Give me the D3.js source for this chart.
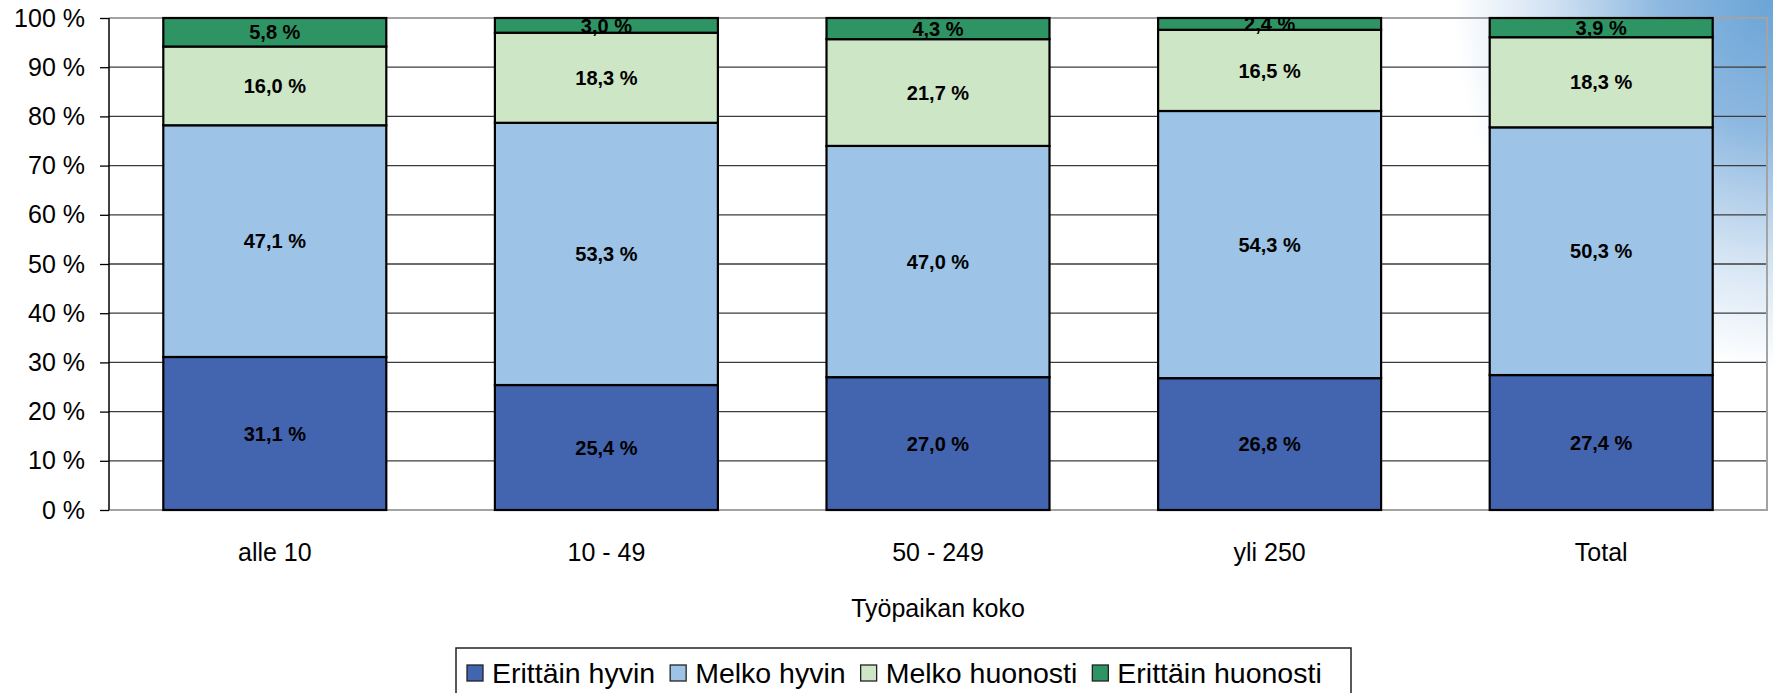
<!DOCTYPE html>
<html>
<head>
<meta charset="utf-8">
<script src="https://cdn.jsdelivr.net/npm/d3@7"></script>
<style>
    html, body { margin: 0; padding: 0; background: #fff; }
    svg text { font-family: "Liberation Sans", Arial, sans-serif; fill: #000; }
</style>
</head>
<body>
<div id="chart"></div>
<script>

var categories = ["alle 10", "10 - 49", "50 - 249", "yli 250", "Total"];
var seriesNames = ["Erittäin hyvin", "Melko hyvin", "Melko huonosti", "Erittäin huonosti"];
var seriesColors = ["#4364ae", "#9dc3e6", "#cde6c5", "#2e9463"];

var erittainHyvin   = [31.1, 25.4, 27.0, 26.8, 27.4];
var melkoHyvin      = [47.1, 53.3, 47.0, 54.3, 50.3];
var melkoHuonosti   = [16.0, 18.3, 21.7, 16.5, 18.3];
var erittainHuonosti = [5.8, 3.0, 4.3, 2.4, 3.9];

var yTicks = [0, 0.1, 0.2, 0.3, 0.4, 0.5, 0.6, 0.7, 0.8, 0.9, 1];
var xTitle = "Työpaikan koko";

var StackedChart = (function() {

    var dim = { "w": 1773, "h": 693 };
    var plot = { "left": 109, "right": 1767, "top": 18, "bottom": 510 };
    var svg = null;

    function buildRows() {
        var values = [erittainHyvin, melkoHyvin, melkoHuonosti, erittainHuonosti];
        return categories.map(function(c, i) {
            var row = { "cat": c };
            seriesNames.forEach(function(s, j) { row[s] = values[j][i]; });
            return row;
        });
    }

    function initFrame(target) {
        svg = d3.select(target).append("svg")
            .attr("width", dim.w)
            .attr("height", dim.h);

        // soft blue corner, top right
        var grad = svg.append("defs").append("radialGradient")
            .attr("id", "corner")
            .attr("gradientUnits", "userSpaceOnUse")
            .attr("cx", dim.w).attr("cy", 0).attr("r", 320)
            .attr("gradientTransform", "translate(1773,0) scale(1,1.15) translate(-1773,0)");
        grad.append("stop").attr("offset", "0").attr("stop-color", "#6aa4d6");
        grad.append("stop").attr("offset", "0.35").attr("stop-color", "#8db8e0");
        grad.append("stop").attr("offset", "0.7").attr("stop-color", "#d3e3f3");
        grad.append("stop").attr("offset", "1").attr("stop-color", "#ffffff");

        svg.append("rect").attr("width", dim.w).attr("height", dim.h).attr("fill", "#fff");
        svg.append("rect").attr("width", dim.w).attr("height", dim.h).attr("fill", "url(#corner)");
    }

    function draw() {
        var rows = buildRows();
        var stack = d3.stack().keys(seriesNames).offset(d3.stackOffsetExpand);
        var layers = stack(rows);

        var x = d3.scaleBand()
            .domain(categories)
            .range([plot.left, plot.right])
            .paddingInner(0.3275)
            .paddingOuter(0.16375);

        var y = d3.scaleLinear()
            .domain([0, 1])
            .range([plot.bottom, plot.top]);

        // gridlines
        svg.append("g")
            .attr("class", "grid")
            .selectAll("line")
            .data(yTicks.filter(function(t) { return t > 0 && t < 1; }))
            .enter().append("line")
            .attr("x1", plot.left).attr("x2", plot.right)
            .attr("y1", function(d) { return y(d); })
            .attr("y2", function(d) { return y(d); })
            .attr("stroke", "#3c3c3c")
            .attr("stroke-width", 1.3);

        // plot border
        svg.append("path")
            .attr("d", "M" + plot.left + "," + plot.top + "H" + plot.right + "V" + plot.bottom + "H" + plot.left)
            .attr("fill", "none")
            .attr("stroke", "#a3a3a3")
            .attr("stroke-width", 2);

        // bars
        var layer = svg.append("g").attr("class", "bars")
            .selectAll("g")
            .data(layers)
            .enter().append("g")
            .attr("fill", function(d, i) { return seriesColors[i]; });

        layer.selectAll("rect")
            .data(function(d) { return d; })
            .enter().append("rect")
            .attr("x", function(d) { return x(d.data.cat); })
            .attr("y", function(d) { return y(d[1]); })
            .attr("width", x.bandwidth())
            .attr("height", function(d) { return y(d[0]) - y(d[1]); })
            .attr("stroke", "#000")
            .attr("stroke-width", 2.2);

        // data labels
        layers.forEach(function(l) {
            svg.append("g").attr("class", "labels")
                .selectAll("text")
                .data(l)
                .enter().append("text")
                .attr("x", function(d) { return x(d.data.cat) + x.bandwidth() / 2; })
                .attr("y", function(d) { return y((d[0] + d[1]) / 2); })
                .attr("dy", "0.36em")
                .attr("text-anchor", "middle")
                .style("font-size", "20px")
                .style("font-weight", "bold")
                .text(function(d) { return d.data[l.key].toFixed(1).replace(".", ",") + " %"; });
        });

        // y axis
        var yAxis = svg.append("g")
            .attr("transform", "translate(" + plot.left + ",0)")
            .call(d3.axisLeft(y)
                .tickValues(yTicks)
                .tickSize(9)
                .tickPadding(15)
                .tickFormat(function(d) { return Math.round(d * 100) + " %"; }));
        yAxis.select(".domain").attr("stroke", "#000").attr("stroke-width", 1.5)
            .attr("d", "M0," + plot.top + "V" + plot.bottom);
        yAxis.selectAll(".tick line").attr("stroke", "#000").attr("stroke-width", 1.3);
        yAxis.selectAll(".tick text")
            .style("font-size", "25px")
            .style("font-family", "'Liberation Sans', Arial, sans-serif")
            .attr("fill", "#000");

        // x axis labels
        var xAxis = svg.append("g")
            .attr("transform", "translate(0," + plot.bottom + ")")
            .call(d3.axisBottom(x).tickSize(0).tickPadding(33));
        xAxis.select(".domain").remove();
        xAxis.selectAll(".tick text")
            .style("font-size", "25px")
            .style("font-family", "'Liberation Sans', Arial, sans-serif")
            .attr("fill", "#000");

        svg.append("text")
            .attr("x", (plot.left + plot.right) / 2)
            .attr("y", 617)
            .attr("text-anchor", "middle")
            .style("font-size", "25px")
            .text(xTitle);

        drawLegend();
    }

    function drawLegend() {
        var box = { "x": 456, "y": 648, "w": 895, "h": 60 };
        var lg = svg.append("g").attr("class", "legend");
        lg.append("rect")
            .attr("x", box.x).attr("y", box.y)
            .attr("width", box.w).attr("height", box.h)
            .attr("fill", "#fff")
            .attr("stroke", "#222")
            .attr("stroke-width", 1.5);

        var cx = 467;
        seriesNames.forEach(function(s, i) {
            lg.append("rect")
                .attr("x", cx).attr("y", 665)
                .attr("width", 16).attr("height", 16)
                .attr("fill", seriesColors[i])
                .attr("stroke", "#222")
                .attr("stroke-width", 1.3);
            var t = lg.append("text")
                .attr("x", cx + 25).attr("y", 683)
                .style("font-size", "28.5px")
                .text(s);
            cx += 25 + t.node().getComputedTextLength() + 15;
        });
    }

    function init(elem) {
        initFrame(elem);
        draw();
    }

    return { "init": init };

}());

StackedChart.init("#chart");
</script>
</body>
</html>
